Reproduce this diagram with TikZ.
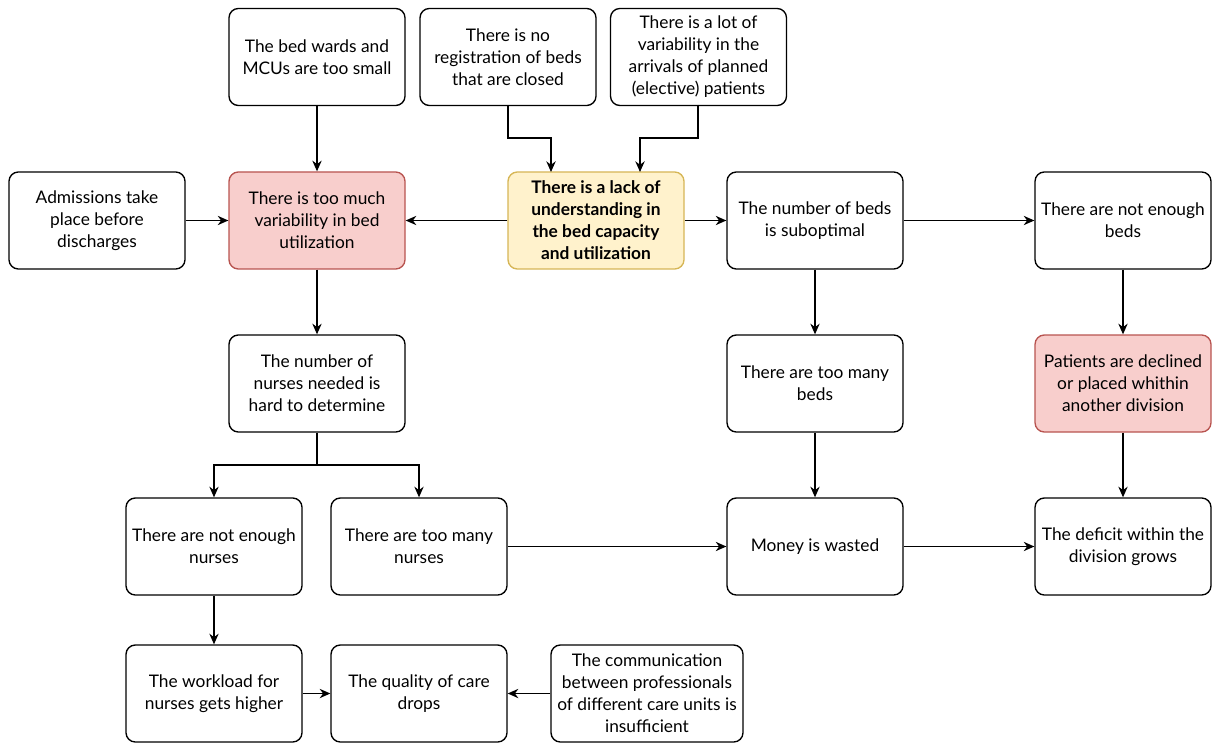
\documentclass[tikz,border=0pt]{standalone}
\usepackage{fontspec}
\setmainfont{Lato}
\usepackage{xcolor}
\usetikzlibrary{arrows.meta}
\definecolor{redfill}{HTML}{F8CECC}
\definecolor{redline}{HTML}{B85450}
\definecolor{yelfill}{HTML}{FFF2CC}
\definecolor{yelline}{HTML}{D6B656}
\begin{document}
\begin{tikzpicture}%
        [x=0.75pt, y=-0.75pt,
        box/.style={draw=black, line width=1pt, rounded corners=7pt, fill=white,
            minimum width=132pt, minimum height=72.75pt, align=center,
            font=\fontsize{13pt}{16.5pt}\selectfont, inner sep=1pt},
        box1/.style={box, draw=redline, fill=redfill},
        box2/.style={box, draw=yelline, fill=yelfill, font=\fontsize{13pt}{16.5pt}\selectfont\bfseries},
        edge/.style={draw=black, line width=1pt, -{Stealth[length=8pt,width=7pt]}}]
    \useasboundingbox (0,0) rectangle (1213,745);
    %% Top row
    \node[box] (wards) at (317,57) {The bed wards and\\MCUs are too small};
    \node[box] (noreg) at (508,57) {There is no\\registration of beds\\that are closed};
    \node[box] (arrivals) at (698.5,57) {There is a lot of\\variability in the\\arrivals of planned\\(elective) patients};
    %% Second row
    \node[box] (admissions) at (97,220.5) {Admissions take\\place before\\discharges};
    \node[box1] (variab) at (317,220.5) {There is too much\\variability in bed\\utilization};
    \node[box2] (lack) at (596,220.5) {There is a lack of\\understanding in\\the bed capacity\\and utilization};
    \node[box] (suboptimal) at (815,220.5) {The number of beds\\is suboptimal};
    \node[box] (notbeds) at (1123,220.5) {There are not enough\\beds};
    %% Third row
    \node[box] (nurses) at (317,383.5) {The number of\\nurses needed is\\hard to determine};
    \node[box] (manybeds) at (815,383.5) {There are too many\\beds};
    \node[box1] (declined) at (1123,383.5) {Patients are declined\\or placed whithin\\another division};
    %% Fourth row
    \node[box] (notnurses) at (214,546.5) {There are not enough\\nurses};
    \node[box] (manynurses) at (419,546.5) {There are too many\\nurses};
    \node[box] (wasted) at (815,546.5) {Money is wasted};
    \node[box] (deficit) at (1123,546.5) {The deficit within the\\division grows};
    %% Bottom row
    \node[box] (workload) at (214,693.5) {The workload for\\nurses gets higher};
    \node[box] (quality) at (419,693.5) {The quality of care\\drops};
    \node[box, minimum width=144pt] (comm) at (647,693.5) {The communication\\between professionals\\of different care units is\\insufficient};
    %%
    %% Connectors
    %%
    \coordinate (lackin1) at (551,172);
    \coordinate (lackin2) at (640,172);
    \coordinate (split) at (317,465);
    \draw[edge] (wards) -- (variab);
    \draw[edge] (noreg.south) -- (508,138) -| (lackin1);
    \draw[edge] (698,105) -- (698,138) -| (lackin2);
    \draw[edge] (admissions) -- (variab);
    \draw[edge] (lack) -- (variab);
    \draw[edge] (lack) -- (suboptimal);
    \draw[edge] (suboptimal) -- (notbeds);
    \draw[edge] (suboptimal) -- (manybeds);
    \draw[edge] (notbeds) -- (declined);
    \draw[edge] (variab) -- (nurses);
    \draw[edge] (nurses.south) -- (split) -| (notnurses.north);
    \draw[edge] (split) -| (manynurses.north);
    \draw[edge] (manynurses) -- (wasted);
    \draw[edge] (manybeds) -- (wasted);
    \draw[edge] (wasted) -- (deficit);
    \draw[edge] (declined) -- (deficit);
    \draw[edge] (notnurses) -- (workload);
    \draw[edge] (workload) -- (quality);
    \draw[edge] (comm) -- (quality);
\end{tikzpicture}
\end{document}
